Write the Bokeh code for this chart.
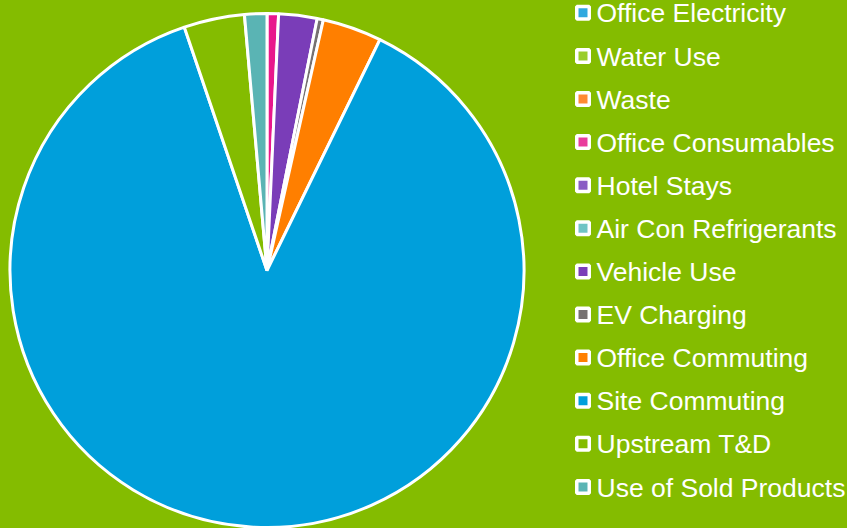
import numpy as np
from bokeh.plotting import figure
from bokeh.models import Range1d, ColumnDataSource, GlobalInlineStyleSheet
from bokeh.core.properties import value
from bokeh.embed import file_html
from bokeh.resources import INLINE

categories = ["Office Electricity", "Water Use", "Waste", "Office Consumables", "Hotel Stays",
              "Air Con Refrigerants", "Vehicle Use", "EV Charging", "Office Commuting",
              "Site Commuting", "Upstream T&D", "Use of Sold Products"]
shares = [0.0, 0.0, 0.0, 0.72, 0.0, 0.0, 2.41, 0.39, 3.72, 87.54, 3.81, 1.40]
colors = ["#2FA8DF", "#A3D334", "#FF8A33", "#E8178C", "#8A5CC4", "#70C4C4",
          "#7A3DB8", "#767171", "#FF7F00", "#009FDB", "#84BC00", "#5AB4B4"]
legend_colors = ["#2FA8DF", "#9ACD2A", "#FF8A33", "#E93C9C", "#8A5CC4", "#70C4C4",
                 "#7A3DB8", "#767171", "#FF7F00", "#009FDB", "#84BC00", "#5AB4B4"]

BG = "#84BC00"
W, H = 847, 528

p = figure(width=W, height=H, output_backend="svg", toolbar_location=None,
           x_range=Range1d(0, W), y_range=Range1d(0, H),
           x_axis_type=None, y_axis_type=None, min_border=0,
           background_fill_color=BG, border_fill_color=BG, outline_line_color=None)
p.grid.visible = False
p.stylesheets = [GlobalInlineStyleSheet(css="html, body { background: #84BC00; margin: 0; overflow: hidden; }")]

vals = np.array(shares, dtype=float)
frac = vals / vals.sum()
cum = np.concatenate([[0.0], np.cumsum(frac)])
start = np.pi / 2 - 2 * np.pi * cum[:-1]
end = np.pi / 2 - 2 * np.pi * cum[1:]
keep = vals > 0

cx, cy, r = 266.5, 258.0, 257.0
src = ColumnDataSource(dict(start=start[keep], end=end[keep],
                            color=[c for c, k in zip(colors, keep) if k]))
p.wedge(x=cx, y=cy, radius=r, start_angle="start", end_angle="end", direction="clock",
        fill_color="color", line_color="white", line_width=3, source=src)

n = len(categories)
idx = np.arange(n)
row_y = 515.7 - 43.1 * idx
lsrc = ColumnDataSource(dict(x=[582.5] * n, y=row_y, ty=row_y - 0.6, tx=[596] * n,
                             color=legend_colors, label=categories))
p.scatter(x="x", y="y", marker="square", size=12.5, fill_color="color",
          line_color="white", line_width=3.5, source=lsrc)
p.text(x="tx", y="ty", text="label", text_color="white", text_font=value("Liberation Sans"),
       text_font_size="26.5px", text_baseline="middle", text_align="left", source=lsrc)

open("out.html", "w").write(file_html(p, INLINE))
